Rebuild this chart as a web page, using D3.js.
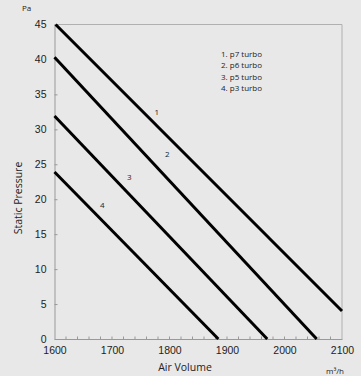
<!DOCTYPE html>
<html><head><meta charset="utf-8">
<script src="https://cdn.jsdelivr.net/npm/d3@7"></script>
<style>
html,body{margin:0;padding:0;background:#e8e8e8;}
svg{display:block;font-family:"Open Sans",sans-serif;}
</style></head>
<body>
<svg id="c" width="361" height="376"></svg>
<script>
const seriesNames = ["1. p7 turbo", "2. p6 turbo", "3. p5 turbo", "4. p3 turbo"];
const curveLabels = ["1", "2", "3", "4"];
const p7 = [[1602, 45], [2100, 4.0]];
const p6 = [[1600, 40.3], [2056, 0]];
const p5 = [[1600, 31.9], [1970, 0]];
const p3 = [[1600, 23.9], [1885, 0]];
const labelPos = [[1778, 32.3], [1796, 26.4], [1730, 23.0], [1683, 19.0]];
const xTicks = [1600, 1700, 1800, 1900, 2000, 2100];
const yTicks = [0, 5, 10, 15, 20, 25, 30, 35, 40, 45];

const svg = d3.select("#c");
const x = d3.scaleLinear().domain([1600, 2100]).range([54.5, 342]);
const y = d3.scaleLinear().domain([0, 45]).range([339, 24.5]);

// frame
svg.append("path").attr("d", `M${x(1600)},${y(45)}H${x(2100)}V${y(0)}`)
  .attr("fill", "none").attr("stroke", "#b0b0b0").attr("stroke-width", 1);

// axes
const gx = svg.append("g").attr("transform", `translate(0,${y(0)})`)
  .call(d3.axisBottom(x).tickValues(xTicks).tickSize(0).tickPadding(8).tickFormat(d3.format("d")));
gx.select(".domain").attr("stroke", "#999");
gx.selectAll("text").attr("font-size", 10.5).attr("fill", "#222");
const minor = d3.range(1620, 2100, 20);
svg.append("g").selectAll("line").data(minor).join("line")
  .attr("x1", d => x(d)).attr("x2", d => x(d)).attr("y1", y(0)).attr("y2", y(0) - 2.5)
  .attr("stroke", "#999");

const gy = svg.append("g").attr("transform", `translate(${x(1600)},0)`)
  .call(d3.axisLeft(y).tickValues(yTicks).tickSize(-3).tickPadding(8));
gy.select(".domain").attr("stroke", "#999");
gy.selectAll(".tick line").attr("stroke", "#999");
gy.selectAll("text").attr("font-size", 10.5).attr("fill", "#222");

// lines
const line = d3.line().x(d => x(d[0])).y(d => y(d[1]));
[p7, p6, p5, p3].forEach(s => {
  svg.append("path").attr("d", line(s)).attr("fill", "none")
    .attr("stroke", "#000").attr("stroke-width", 3);
});

// curve labels
svg.append("g").selectAll("text").data(labelPos).join("text")
  .attr("x", d => x(d[0])).attr("y", d => y(d[1])).attr("text-anchor", "middle")
  .attr("dominant-baseline", "middle").attr("font-size", 8).attr("fill", "#222")
  .text((d, i) => curveLabels[i]);

// legend
svg.append("g").selectAll("text").data(seriesNames).join("text")
  .attr("x", 221).attr("y", (d, i) => 57 + i * 11.3)
  .attr("font-size", 8).attr("fill", "#222").text(d => d);

// axis titles
svg.append("text").attr("x", 22).attr("y", 11).attr("font-size", 8).attr("fill", "#222").text("Pa");
svg.append("text").attr("x", 185).attr("y", 371).attr("text-anchor", "middle")
  .attr("font-size", 10.5).attr("fill", "#222").text("Air Volume");
svg.append("text").attr("x", 335).attr("y", 374).attr("text-anchor", "middle")
  .attr("font-size", 8).attr("fill", "#222").text("m³/h");
svg.append("text").attr("transform", "translate(22,198) rotate(-90)").attr("text-anchor", "middle")
  .attr("font-size", 10.5).attr("fill", "#222").text("Static Pressure");
</script>
</body></html>
